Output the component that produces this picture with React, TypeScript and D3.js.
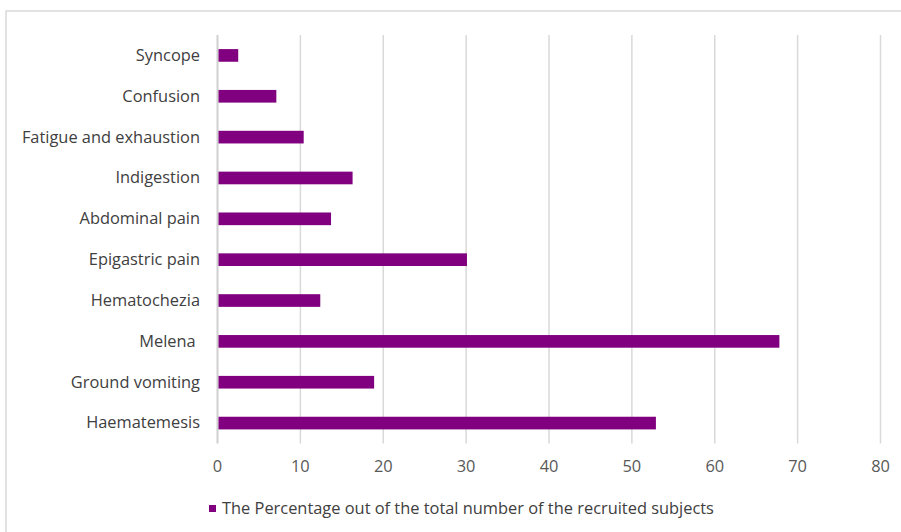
import React from "react";
import * as d3 from "d3";

const categories = [
  "Syncope",
  "Confusion",
  "Fatigue and exhaustion",
  "Indigestion",
  "Abdominal pain",
  "Epigastric pain",
  "Hematochezia",
  "Melena ",
  "Ground vomiting",
  "Haematemesis",
];
const values = [2.5, 7.1, 10.4, 16.3, 13.7, 30.1, 12.4, 67.8, 18.9, 52.9];
const xTicks = [0, 10, 20, 30, 40, 50, 60, 70, 80];
const legendLabel = "The Percentage out of the total number of the recruited subjects";

const W = 901;
const H = 532;
const plot = { left: 217.5, right: 880.5, top: 35, bottom: 443.5 };
const font = "'Open Sans', 'Liberation Sans', sans-serif";

export default function App() {
  const x = d3.scaleLinear().domain([0, 80]).range([plot.left, plot.right]);
  const y = d3
    .scaleBand()
    .domain(categories)
    .range([plot.top, plot.bottom])
    .paddingInner(0.69)
    .paddingOuter(0.345);

  return (
    <svg
      width={W}
      height={H}
      style={{ position: "absolute", left: 0, top: 0, background: "#fff" }}
    >
      <rect x={6} y={11} width={W} height={H} fill="#fff" stroke="#d9d9d9" strokeWidth={1.5} />
      {xTicks.map((t) => (
        <line
          key={"g" + t}
          x1={x(t)}
          x2={x(t)}
          y1={plot.top}
          y2={plot.bottom}
          stroke={t === 0 ? "#d0d0d0" : "#d9d9d9"}
          strokeWidth={t === 0 ? 2 : 1.5}
        />
      ))}
      {categories.map((c, i) => (
        <rect
          key={"b" + c}
          x={x(0) + 1}
          y={y(c)!}
          width={x(values[i]) - x(0) - 1}
          height={y.bandwidth()}
          fill="#800080"
        />
      ))}
      {categories.map((c) => (
        <text
          key={"l" + c}
          x={200}
          y={y(c)! + y.bandwidth() / 2}
          dy="0.33em"
          textAnchor="end"
          fontFamily={font}
          fontSize={16.4}
          fill="#404040"
          style={{ whiteSpace: "pre" }}
        >
          {c}
        </text>
      ))}
      {xTicks.map((t) => (
        <text
          key={"t" + t}
          x={x(t)}
          y={467}
          dy="0.33em"
          textAnchor="middle"
          fontFamily={font}
          fontSize={16.4}
          fill="#595959"
        >
          {t}
        </text>
      ))}
      <rect x={209} y={505} width={7} height={7} fill="#800080" />
      <text
        x={222}
        y={509}
        dy="0.33em"
        fontFamily={font}
        fontSize={16.4}
        fill="#404040"
      >
        {legendLabel}
      </text>
    </svg>
  );
}
